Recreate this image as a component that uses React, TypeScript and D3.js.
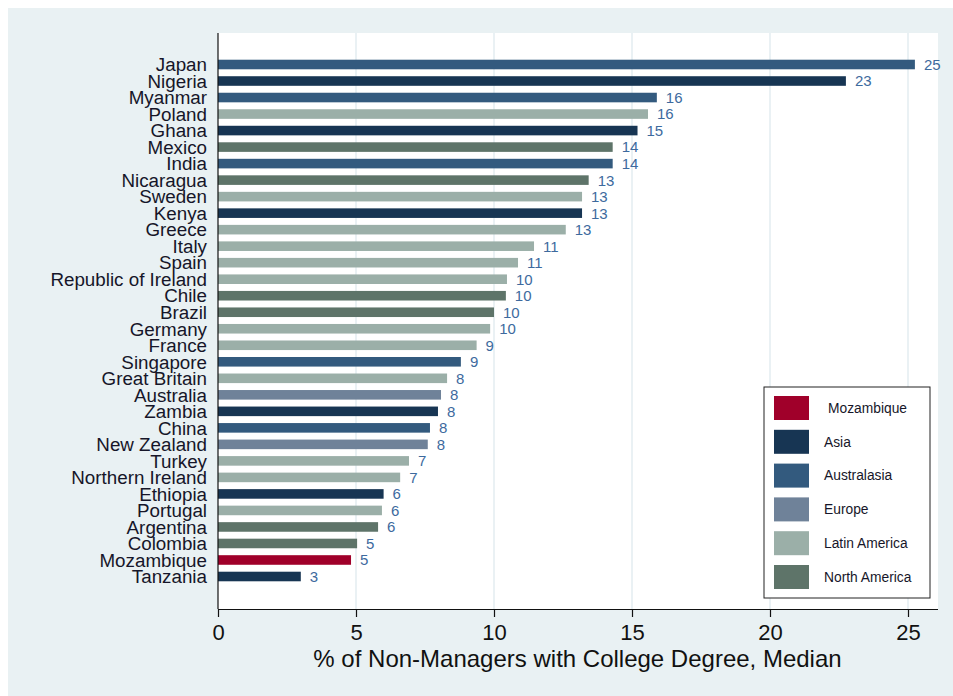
import { useEffect, useRef } from 'react'
import * as d3 from 'd3'

// Bar order, top to bottom
const countries = [
  'Japan', 'Nigeria', 'Myanmar', 'Poland', 'Ghana', 'Mexico', 'India', 'Nicaragua',
  'Sweden', 'Kenya', 'Greece', 'Italy', 'Spain', 'Republic of Ireland', 'Chile', 'Brazil',
  'Germany', 'France', 'Singapore', 'Great Britain', 'Australia', 'Zambia', 'China',
  'New Zealand', 'Turkey', 'Northern Ireland', 'Ethiopia', 'Portugal', 'Argentina',
  'Colombia', 'Mozambique', 'Tanzania',
]

const values = [
  25.25, 22.75, 15.9, 15.58, 15.2, 14.3, 14.3, 13.43,
  13.19, 13.19, 12.6, 11.45, 10.87, 10.47, 10.43, 10.0,
  9.86, 9.37, 8.8, 8.3, 8.08, 7.97, 7.68,
  7.6, 6.92, 6.6, 6.0, 5.94, 5.8,
  5.04, 4.82, 3.0,
]

// legend group each bar is drawn with
const groups = [
  'Australasia', 'Asia', 'Australasia', 'Latin America', 'Asia', 'North America', 'Australasia', 'North America',
  'Latin America', 'Asia', 'Latin America', 'Latin America', 'Latin America', 'Latin America', 'North America', 'North America',
  'Latin America', 'Latin America', 'Australasia', 'Latin America', 'Europe', 'Asia', 'Australasia',
  'Europe', 'Latin America', 'Latin America', 'Asia', 'Latin America', 'North America',
  'North America', 'Mozambique', 'Asia',
]

const legendLabels = ['Mozambique', 'Asia', 'Australasia', 'Europe', 'Latin America', 'North America']
const legendColors = ['#a0002a', '#173553', '#335a7e', '#6f8299', '#9bafa8', '#5e7469']

const xTicks = [0, 5, 10, 15, 20, 25]

export default function App() {
  const svgRef = useRef<SVGSVGElement>(null)

  useEffect(() => {
    if (!svgRef.current) return
    const svg = d3.select(svgRef.current)
    svg.selectAll('*').remove()

    const font = 'Arial, "Liberation Sans", sans-serif'
    const plot = { left: 218, right: 938, top: 33, bottom: 609 }

    // outer panel
    svg.append('rect')
      .attr('x', 8).attr('y', 8).attr('width', 945).attr('height', 688)
      .attr('fill', '#e9f1f3')

    svg.append('rect')
      .attr('x', plot.left).attr('y', plot.top)
      .attr('width', plot.right - plot.left).attr('height', plot.bottom - plot.top)
      .attr('fill', '#ffffff')

    const x = d3.scaleLinear().domain([0, 25]).range([218, 908])

    const step = (576.5 - 64.5) / (countries.length - 1)
    const y = d3.scaleBand<string>()
      .domain(countries)
      .range([64.5 - step / 2, 576.5 + step / 2])
      .paddingInner(0.42)
      .paddingOuter(0.21)

    const color = d3.scaleOrdinal<string, string>().domain(legendLabels).range(legendColors)

    // gridlines
    svg.append('g')
      .selectAll('line')
      .data(xTicks.slice(1))
      .join('line')
      .attr('x1', (d) => x(d)).attr('x2', (d) => x(d))
      .attr('y1', plot.top).attr('y2', plot.bottom)
      .attr('stroke', '#e3ecf0')
      .attr('stroke-width', 1.5)

    // bars
    svg.append('g')
      .selectAll('rect')
      .data(countries)
      .join('rect')
      .attr('x', x(0))
      .attr('y', (d) => y(d)!)
      .attr('width', (_, i) => x(values[i]) - x(0))
      .attr('height', y.bandwidth())
      .attr('fill', (_, i) => color(groups[i]))

    // value labels
    svg.append('g')
      .selectAll('text')
      .data(countries)
      .join('text')
      .attr('x', (_, i) => x(values[i]) + 9)
      .attr('y', (d) => y(d)! + y.bandwidth() / 2)
      .attr('dy', '0.36em')
      .attr('fill', '#3d6a9e')
      .style('font-family', font)
      .style('font-size', '15px')
      .text((_, i) => Math.round(values[i]))

    // category labels
    svg.append('g')
      .selectAll('text')
      .data(countries)
      .join('text')
      .attr('x', 207)
      .attr('y', (d) => y(d)! + y.bandwidth() / 2)
      .attr('dy', '0.36em')
      .attr('text-anchor', 'end')
      .attr('fill', '#161629')
      .style('font-family', font)
      .style('font-size', '18.8px')
      .text((d) => d)

    // y axis line
    svg.append('line')
      .attr('x1', plot.left).attr('x2', plot.left)
      .attr('y1', plot.top).attr('y2', plot.bottom)
      .attr('stroke', '#111')
      .attr('stroke-width', 1.2)

    // x axis
    const xAxis = svg.append('g')
      .attr('transform', `translate(0,${plot.bottom})`)
      .call(d3.axisBottom(x).tickValues(xTicks).tickSize(8).tickPadding(7).tickSizeOuter(0))
    xAxis.select('.domain')
      .attr('d', `M${plot.left},0.5H${plot.right}`)
      .attr('stroke', '#111')
      .attr('stroke-width', 1.2)
    xAxis.selectAll('.tick line').attr('stroke', '#111').attr('stroke-width', 1.2)
    xAxis.selectAll('text')
      .attr('fill', '#111')
      .style('font-family', font)
      .style('font-size', '22px')

    svg.append('text')
      .attr('x', 577.5)
      .attr('y', 667)
      .attr('text-anchor', 'middle')
      .attr('fill', '#111')
      .style('font-family', font)
      .style('font-size', '24px')
      .text('% of Non-Managers with College Degree, Median')

    // legend
    const lg = svg.append('g')
    lg.append('rect')
      .attr('x', 764).attr('y', 387).attr('width', 166).attr('height', 211)
      .attr('fill', '#ffffff')
      .attr('stroke', '#222')
      .attr('stroke-width', 1)
    const rows = lg.selectAll('g')
      .data(legendLabels)
      .join('g')
      .attr('transform', (_, i) => `translate(0,${396 + i * 33.8})`)
    rows.append('rect')
      .attr('x', 774).attr('y', 0).attr('width', 35).attr('height', 24)
      .attr('fill', (d) => color(d))
    rows.append('text')
      .attr('x', (d, i) => (i === 0 ? 828 : 824))
      .attr('y', 12)
      .attr('dy', '0.35em')
      .attr('fill', '#161629')
      .style('font-family', font)
      .style('font-size', '13.8px')
      .text((d) => d)
  }, [])

  return (
    <svg
      ref={svgRef}
      width={953}
      height={696}
      style={{ position: 'absolute', left: 0, top: 0, display: 'block', background: '#ffffff' }}
    />
  )
}
